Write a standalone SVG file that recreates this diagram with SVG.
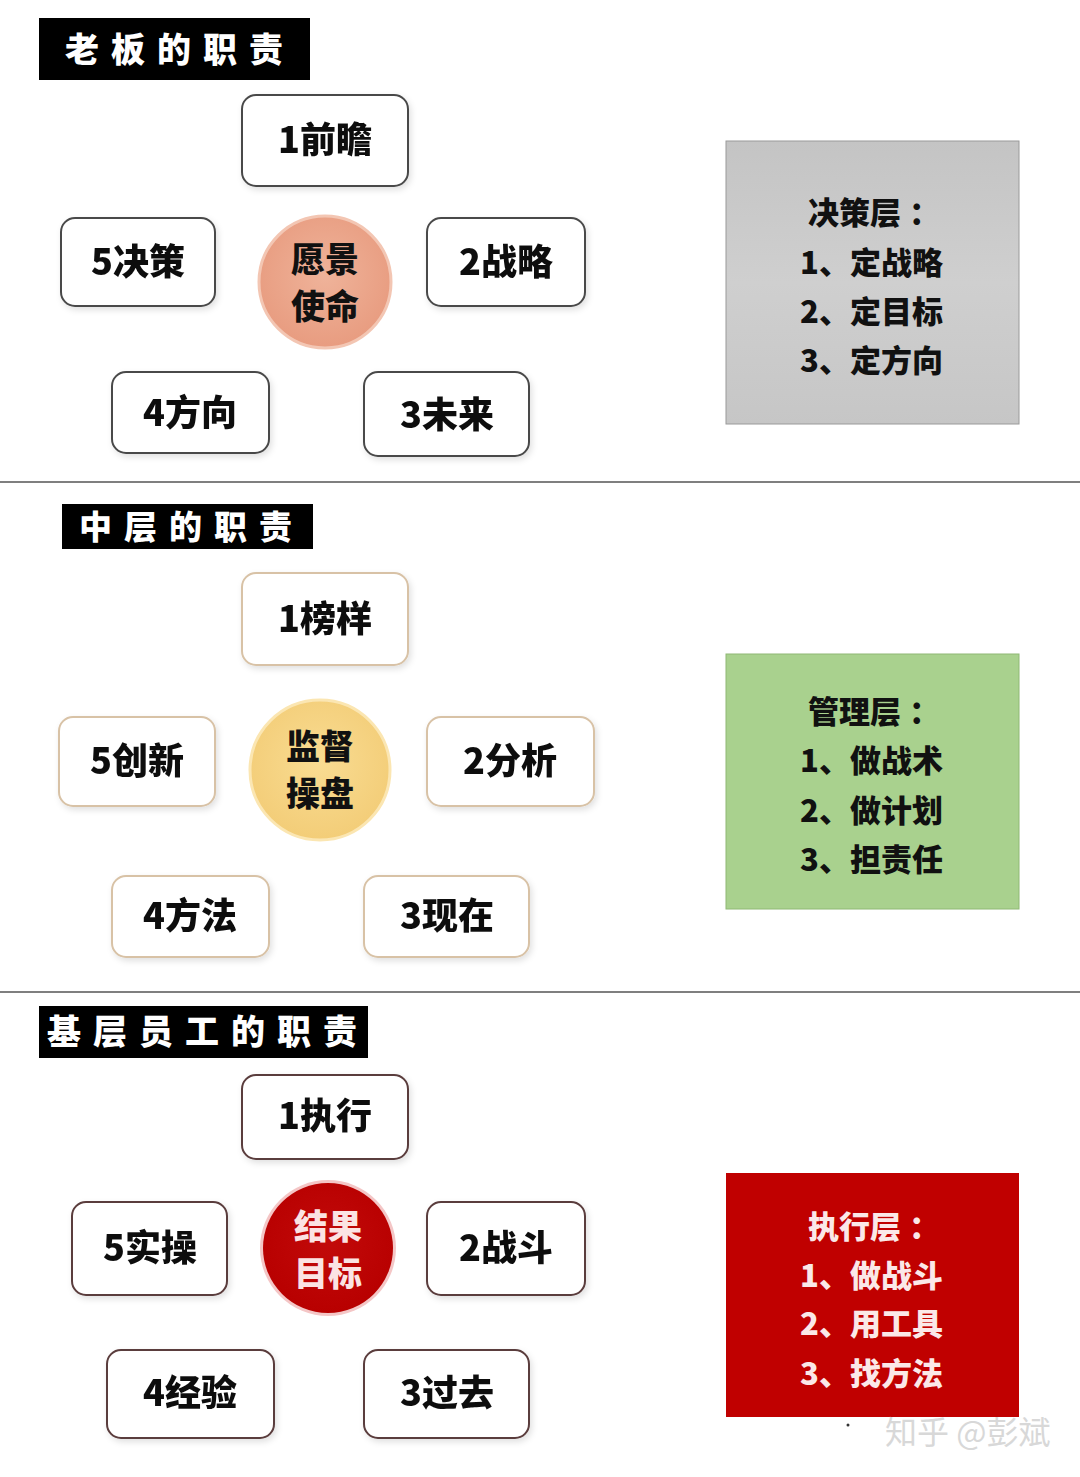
<svg xmlns="http://www.w3.org/2000/svg" width="1080" height="1477" viewBox="0 0 1080 1477">
<defs>
<filter id="sh" x="-10%" y="-10%" width="125%" height="130%">
<feDropShadow dx="2" dy="3" stdDeviation="3" flood-color="#000" flood-opacity="0.12"/>
</filter>
<radialGradient id="g1" cx="50%" cy="45%" r="55%">
<stop offset="0" stop-color="#EFB39A"/><stop offset="1" stop-color="#E89C80"/>
</radialGradient>
<radialGradient id="g2" cx="50%" cy="45%" r="55%">
<stop offset="0" stop-color="#F9DC92"/><stop offset="1" stop-color="#F3CD78"/>
</radialGradient>
<radialGradient id="g3" cx="50%" cy="45%" r="55%">
<stop offset="0" stop-color="#C20A0A"/><stop offset="1" stop-color="#B80000"/>
</radialGradient>
<linearGradient id="gray" x1="0" y1="0" x2="0" y2="1">
<stop offset="0" stop-color="#C4C4C4"/><stop offset="0.5" stop-color="#CFCFCF"/><stop offset="1" stop-color="#C6C6C6"/>
</linearGradient>
</defs>
<style>
text{font-family:"Noto Sans CJK SC","Noto Sans",sans-serif;font-weight:900}
.hdr{fill:#000}
.ht{fill:#fff;font-size:34px;letter-spacing:12px}
.n{fill:#fff;stroke-width:2}
.b1{stroke:#4a4a4a}
.b2{stroke:#D8C2A6}
.b3{stroke:#5a3c3c}
.nt{font-size:36px;fill:#111;text-anchor:middle}
.ct{font-size:34px;text-anchor:middle}
.rt{font-size:31px}
.div{stroke:#555;stroke-width:1.5}
</style>
<rect width="1080" height="1477" fill="#fff"/>

<g id="dividers">
<line class="div" x1="0" y1="482" x2="1080" y2="482"/>
<line class="div" x1="0" y1="992" x2="1080" y2="992"/>
</g>
<g id="connectors"></g>

<!-- Section 1 -->
<g id="hdr1"><rect class="hdr" x="39" y="18" width="271" height="62"/><text class="ht" x="65" y="62">老板的职责</text></g>
<g id="s1n1" filter="url(#sh)"><rect class="n b1" x="242" y="95" width="166" height="91" rx="14"/><text class="nt" x="325" y="153">1前瞻</text></g>
<g id="s1n5" filter="url(#sh)"><rect class="n b1" x="61" y="218" width="154" height="88" rx="14"/><text class="nt" x="138" y="275">5决策</text></g>
<g id="s1c"><circle cx="325" cy="282" r="66" fill="url(#g1)" stroke="#F3C6B3" stroke-width="3"/><text class="ct" x="325" y="272" fill="#111">愿景</text><text class="ct" x="325" y="319" fill="#111">使命</text></g>
<g id="s1n2" filter="url(#sh)"><rect class="n b1" x="427" y="218" width="158" height="88" rx="14"/><text class="nt" x="506" y="275">2战略</text></g>
<g id="s1n4" filter="url(#sh)"><rect class="n b1" x="112" y="372" width="157" height="81" rx="14"/><text class="nt" x="190" y="426">4方向</text></g>
<g id="s1n3" filter="url(#sh)"><rect class="n b1" x="364" y="372" width="165" height="84" rx="14"/><text class="nt" x="447" y="428">3未来</text></g>
<g id="s1box"><rect x="726" y="141" width="293" height="283" fill="url(#gray)" stroke="#9a9a9a" stroke-width="1"/>
<text class="rt" x="808" y="224" fill="#111">决策层<tspan dx="8">：</tspan></text>
<text class="rt" x="800" y="274" fill="#111">1、定战略</text>
<text class="rt" x="800" y="323" fill="#111">2、定目标</text>
<text class="rt" x="800" y="372" fill="#111">3、定方向</text></g>

<!-- Section 2 -->
<g id="hdr2"><rect class="hdr" x="62" y="504" width="251" height="45"/><text class="ht" x="79" y="539" style="font-size:33px">中层的职责</text></g>
<g id="s2n1" filter="url(#sh)"><rect class="n b2" x="242" y="573" width="166" height="92" rx="14"/><text class="nt" x="325" y="632">1榜样</text></g>
<g id="s2n5" filter="url(#sh)"><rect class="n b2" x="59" y="717" width="156" height="89" rx="14"/><text class="nt" x="137" y="774">5创新</text></g>
<g id="s2c"><circle cx="320" cy="770" r="70" fill="url(#g2)" stroke="#FBE6B2" stroke-width="3"/><text class="ct" x="320" y="759" fill="#111">监督</text><text class="ct" x="320" y="806" fill="#111">操盘</text></g>
<g id="s2n2" filter="url(#sh)"><rect class="n b2" x="427" y="717" width="167" height="89" rx="14"/><text class="nt" x="510" y="774">2分析</text></g>
<g id="s2n4" filter="url(#sh)"><rect class="n b2" x="112" y="876" width="157" height="81" rx="14"/><text class="nt" x="190" y="929">4方法</text></g>
<g id="s2n3" filter="url(#sh)"><rect class="n b2" x="364" y="876" width="165" height="81" rx="14"/><text class="nt" x="447" y="929">3现在</text></g>
<g id="s2box"><rect x="726" y="654" width="293" height="255" fill="#A9D18E" stroke="#8fb874" stroke-width="1"/>
<text class="rt" x="808" y="723" fill="#111">管理层<tspan dx="8">：</tspan></text>
<text class="rt" x="800" y="772" fill="#111">1、做战术</text>
<text class="rt" x="800" y="822" fill="#111">2、做计划</text>
<text class="rt" x="800" y="871" fill="#111">3、担责任</text></g>

<!-- Section 3 -->
<g id="hdr3"><rect class="hdr" x="39" y="1006" width="329" height="52"/><text class="ht" x="47" y="1044">基层员工的职责</text></g>
<g id="s3n1" filter="url(#sh)"><rect class="n b3" x="242" y="1075" width="166" height="84" rx="14"/><text class="nt" x="325" y="1129">1执行</text></g>
<g id="s3n5" filter="url(#sh)"><rect class="n b3" x="72" y="1202" width="155" height="93" rx="14"/><text class="nt" x="150" y="1261">5实操</text></g>
<g id="s3c"><circle cx="328" cy="1248" r="68" fill="#F4C6C6"/><circle cx="328" cy="1248" r="65" fill="url(#g3)"/><text class="ct" x="328" y="1239" fill="#FBE3E3">结果</text><text class="ct" x="328" y="1286" fill="#FBE3E3">目标</text></g>
<g id="s3n2" filter="url(#sh)"><rect class="n b3" x="427" y="1202" width="158" height="93" rx="14"/><text class="nt" x="506" y="1261">2战斗</text></g>
<g id="s3n4" filter="url(#sh)"><rect class="n b3" x="107" y="1350" width="167" height="88" rx="14"/><text class="nt" x="190" y="1406">4经验</text></g>
<g id="s3n3" filter="url(#sh)"><rect class="n b3" x="364" y="1350" width="165" height="88" rx="14"/><text class="nt" x="447" y="1406">3过去</text></g>
<g id="s3box"><rect x="726" y="1173" width="293" height="244" fill="#C00000"/>
<text class="rt" x="808" y="1238" fill="#FBE8E8">执行层<tspan dx="8">：</tspan></text>
<text class="rt" x="800" y="1287" fill="#FBE8E8">1、做战斗</text>
<text class="rt" x="800" y="1335" fill="#FBE8E8">2、用工具</text>
<text class="rt" x="800" y="1385" fill="#FBE8E8">3、找方法</text></g>

<g id="watermark"><circle cx="848" cy="1425" r="1.5" fill="#333"/>
<text x="885" y="1444" style="font-size:32px;font-weight:400;fill:#D8D8D8">知乎 @彭斌</text></g>
</svg>
